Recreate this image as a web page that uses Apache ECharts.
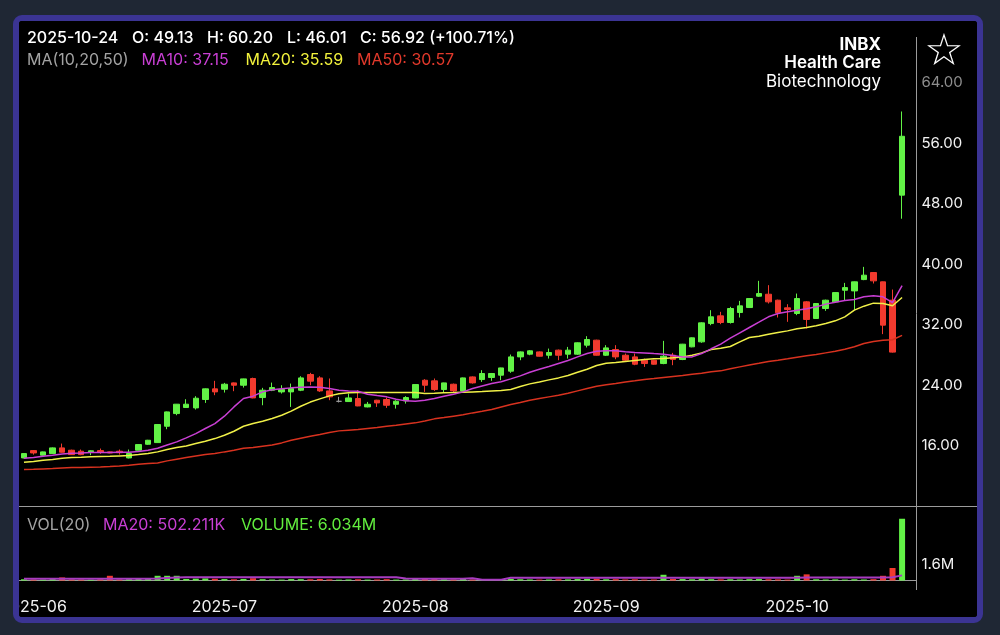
<!DOCTYPE html>
<html><head><meta charset="utf-8">
<script src="https://cdn.jsdelivr.net/npm/echarts@6/dist/echarts.min.js"></script>
<style>
html,body{margin:0;padding:0;background:#1f2734;width:1000px;height:635px;overflow:hidden}
#frame{position:absolute;left:13px;top:15px;width:958px;height:596px;border:6px solid #3b3493;border-radius:9px;background:#000;overflow:hidden}
#chart{position:absolute;left:0;top:0;width:958px;height:596px}
</style></head><body>
<div id="frame"><div id="chart"></div></div>
<script>
const dates = [
'2025-06-13','2025-06-16','2025-06-17','2025-06-18','2025-06-20','2025-06-23','2025-06-24','2025-06-25','2025-06-26','2025-06-27','2025-06-30',
'2025-07-01','2025-07-02','2025-07-03','2025-07-07','2025-07-08','2025-07-09','2025-07-10','2025-07-11','2025-07-14','2025-07-15','2025-07-16','2025-07-17','2025-07-18','2025-07-21','2025-07-22','2025-07-23','2025-07-24','2025-07-25','2025-07-28','2025-07-29','2025-07-30','2025-07-31',
'2025-08-01','2025-08-04','2025-08-05','2025-08-06','2025-08-07','2025-08-08','2025-08-11','2025-08-12','2025-08-13','2025-08-14','2025-08-15','2025-08-18','2025-08-19','2025-08-20','2025-08-21','2025-08-22','2025-08-25','2025-08-26','2025-08-27','2025-08-28','2025-08-29',
'2025-09-02','2025-09-03','2025-09-04','2025-09-05','2025-09-08','2025-09-09','2025-09-10','2025-09-11','2025-09-12','2025-09-15','2025-09-16','2025-09-17','2025-09-18','2025-09-19','2025-09-22','2025-09-23','2025-09-24','2025-09-25','2025-09-26','2025-09-29','2025-09-30',
'2025-10-01','2025-10-02','2025-10-03','2025-10-06','2025-10-07','2025-10-08','2025-10-09','2025-10-10','2025-10-13','2025-10-14','2025-10-15','2025-10-16','2025-10-17','2025-10-20','2025-10-21','2025-10-22','2025-10-23','2025-10-24'
];
const open = [14.36,15.33,14.72,14.94,15.69,15.38,15.25,15.16,15.33,15.16,15.25,
14.36,15.38,16.17,16.39,18.55,20.23,21.03,20.98,22.09,23.50,23.45,24.29,23.98,24.87,22.35,23.32,23.10,23.10,23.32,25.40,24.95,23.23,
21.85,21.82,22.22,21.11,22.00,22.09,21.46,21.91,22.30,24.64,24.56,23.41,24.11,23.23,25.08,24.73,25.00,25.31,25.84,27.73,28.09,
28.39,27.95,28.62,28.09,28.09,29.28,29.94,27.95,28.70,27.95,27.73,27.29,27.29,26.85,27.95,27.38,29.06,29.72,32.14,33.16,32.28,
33.60,34.26,35.76,36.02,35.23,34.22,33.47,35.01,32.81,34.13,35.01,36.55,36.46,37.96,38.89,37.66,35.23,49.13];
const high = [15.00,15.40,15.20,15.75,16.26,15.45,15.47,15.35,15.60,15.20,15.47,
15.47,16.20,16.75,18.85,20.50,21.50,22.13,22.53,23.55,24.56,24.29,24.34,24.85,24.98,23.63,24.33,23.98,24.20,25.17,25.62,25.17,24.87,
22.44,22.88,23.32,21.77,22.05,22.35,22.00,22.53,24.10,24.78,24.87,24.32,24.20,25.00,25.15,25.97,25.60,26.30,28.04,28.45,28.62,
28.45,28.83,28.70,29.05,29.65,30.47,30.00,29.28,29.28,28.17,28.17,27.50,27.35,29.85,28.26,29.45,30.30,32.30,33.91,33.69,34.35,
35.14,35.50,37.79,37.22,35.30,34.70,36.11,35.10,34.85,35.30,36.30,37.52,37.70,39.64,38.95,37.70,36.64,60.20];
const low = [14.30,14.80,14.65,14.90,15.05,14.75,14.72,14.72,14.90,14.98,14.80,
14.30,15.35,16.10,16.35,18.16,20.01,21.00,20.76,21.64,22.66,23.01,23.19,23.67,22.25,21.33,23.20,22.88,21.11,23.20,23.98,23.10,22.00,
21.70,21.78,21.20,21.05,21.11,20.98,20.89,21.55,22.25,23.10,23.23,23.01,22.97,23.20,24.20,24.42,24.56,24.64,25.62,27.29,27.95,
27.78,27.51,27.29,27.51,28.00,28.97,27.90,27.85,27.42,27.16,26.63,26.41,26.70,26.76,26.63,27.30,29.00,29.60,31.92,32.06,32.14,
32.94,34.20,35.67,34.79,32.94,32.37,33.25,31.49,32.75,33.82,34.95,35.14,33.91,37.88,37.44,30.74,28.30,46.01];
const close = [14.94,15.02,15.16,15.69,15.11,14.80,14.80,15.30,15.11,15.02,15.05,
14.94,16.13,16.70,18.78,20.45,21.47,21.47,22.26,23.50,23.10,24.11,23.98,24.82,22.30,23.32,23.67,23.41,23.54,24.95,24.52,23.23,22.44,
21.85,22.30,21.24,21.46,21.64,21.33,21.86,22.35,24.07,23.98,23.41,24.29,23.23,24.95,24.29,25.53,25.53,26.27,27.73,28.39,28.53,
27.82,28.31,27.95,28.62,29.59,30.03,27.95,28.92,27.73,27.29,26.76,26.85,26.76,27.82,27.38,29.41,30.25,32.23,33.03,32.28,34.13,
34.48,35.45,36.11,35.01,33.56,34.00,35.45,32.68,34.79,35.23,36.24,36.90,37.66,38.54,37.79,31.93,28.36,56.92];
const ma10 = [14.32,14.41,14.58,14.72,14.89,14.98,15.02,15.07,15.07,15.07,15.11,
15.11,15.20,15.37,15.64,16.08,16.48,17.01,17.58,18.25,18.91,19.88,21.11,22.22,22.53,23.10,23.37,23.50,23.63,23.72,23.76,23.72,23.54,
23.32,23.23,23.19,22.79,22.61,22.44,22.13,21.91,21.86,22.00,22.22,22.53,22.79,23.10,23.54,23.89,24.20,24.43,24.82,25.22,25.70,
26.10,26.45,26.85,27.25,27.73,28.17,28.48,28.53,28.53,28.40,28.31,28.26,28.17,28.09,27.91,27.73,27.73,28.17,28.80,29.41,30.20,
30.91,31.62,32.32,33.03,33.47,33.69,33.91,34.09,34.35,34.71,34.97,35.19,35.32,35.68,35.81,35.68,34.90,37.15];
const ma20 = [13.79,13.88,14.05,14.14,14.32,14.41,14.45,14.50,14.54,14.58,14.63,
14.67,14.80,14.94,15.16,15.47,15.73,15.95,16.26,16.57,16.92,17.36,17.89,18.55,18.91,19.22,19.57,20.01,20.55,21.20,21.75,22.17,22.57,
22.84,22.97,23.01,23.01,23.01,23.01,23.01,23.01,23.01,22.88,22.92,22.97,23.01,23.06,23.10,23.14,23.23,23.28,23.41,23.81,24.16,
24.42,24.69,24.95,25.26,25.70,26.10,26.59,26.90,26.98,27.12,27.25,27.38,27.47,27.51,27.60,27.73,27.95,28.26,28.70,28.88,29.10,
29.72,30.29,30.47,30.73,30.95,31.17,31.44,31.62,31.84,32.15,32.50,33.03,33.91,34.44,34.84,34.79,34.50,35.59];
const ma50 = [12.82,12.86,12.91,12.95,13.04,13.08,13.08,13.13,13.17,13.22,13.30,
13.39,13.52,13.61,13.70,13.97,14.19,14.41,14.63,14.80,14.94,15.16,15.37,15.64,15.73,15.91,16.08,16.35,16.70,16.97,17.23,17.45,17.72,
17.94,18.03,18.11,18.25,18.38,18.56,18.69,18.86,19.00,19.26,19.53,19.70,19.88,20.06,20.32,20.54,20.78,21.11,21.42,21.69,22.00,
22.22,22.44,22.66,22.92,23.23,23.54,23.85,24.03,24.20,24.42,24.56,24.73,24.86,25.00,25.13,25.26,25.44,25.57,25.77,25.88,26.15,
26.41,26.67,26.89,27.12,27.29,27.47,27.69,27.87,28.04,28.26,28.48,28.75,29.06,29.50,29.77,29.94,30.00,30.57];
// volume in millions of shares
const volume = [0.12,0.10,0.09,0.14,0.30,0.11,0.10,0.08,0.12,0.46,0.11,
0.13,0.16,0.20,0.46,0.46,0.46,0.15,0.18,0.20,0.17,0.14,0.12,0.15,0.22,0.13,0.10,0.09,0.14,0.13,0.12,0.15,0.11,
0.08,0.10,0.12,0.09,0.10,0.13,0.09,0.10,0.17,0.20,0.14,0.12,0.10,0.15,0.10,0.12,0.08,0.11,0.16,0.12,0.10,
0.09,0.10,0.12,0.11,0.14,0.16,0.18,0.12,0.13,0.10,0.12,0.09,0.10,0.56,0.15,0.14,0.12,0.18,0.13,0.11,0.12,
0.10,0.13,0.14,0.12,0.11,0.09,0.46,0.60,0.12,0.10,0.11,0.09,0.12,0.10,0.13,0.46,1.22,6.034];
const volMa20 = [0.16,0.16,0.16,0.16,0.16,0.16,0.16,0.16,0.16,0.16,0.16,
0.16,0.16,0.16,0.20,0.25,0.30,0.32,0.32,0.32,0.32,
0.32,0.32,0.32,0.32,0.32,0.32,0.32,0.32,0.32,0.32,
0.32,0.32,0.32,0.32,0.32,0.32,0.32,0.31,0.31,0.20,
0.16,0.16,0.16,0.16,0.16,0.16,0.22,0.08,0.08,0.08,
0.26,0.26,0.26,0.26,0.26,0.26,0.26,0.26,0.26,0.26,
0.26,0.26,0.26,0.26,0.26,0.26,0.27,0.27,0.27,0.27,
0.27,0.27,0.27,0.27,0.27,0.27,0.27,0.27,0.27,0.27,
0.28,0.29,0.29,0.29,0.29,0.29,0.29,0.29,0.29,0.30,0.32,0.502];
const priceTicks = [16,24,32,40,48,56,64];

const GREEN = '#62f246', RED = '#f23a2e', GRAY = '#9a9a9a';
const C_MA10 = '#c93fd4', C_MA20 = '#f0f048', C_MA50 = '#d8321f';
const FONT = 'Inter';

const cats = dates.concat(['']);
const candleData = dates.map((d, i) => {
  const v = [open[i], close[i], low[i], high[i]];
  if (open[i] === close[i]) return {value: v, itemStyle: {color: GRAY, borderColor: GRAY, borderColorDoji: GRAY}};
  return v;
});
const volData = dates.map((d, i) => ({value: volume[i], itemStyle: {color: close[i] >= open[i] ? GREEN : RED}}));

function txt(x, y, text, fill, font, align) {
  return {type: 'text', x: x, y: y, silent: true,
    style: {text: text, fill: fill, font: font, textAlign: align || 'left', textVerticalAlign: 'middle'}};
}

const chart = echarts.init(document.getElementById('chart'));
const gridL = 0.2, gridW = 897.2;
chart.setOption({
  animation: false,
  backgroundColor: '#000',
  grid: [
    {left: gridL, width: gridW, top: 1.3, height: 483.7, outerBoundsMode: 'none', containLabel: false},
    {left: gridL, width: gridW, top: 494, height: 65.5, outerBoundsMode: 'none', containLabel: false}
  ],
  xAxis: [
    {type: 'category', gridIndex: 0, data: cats, boundaryGap: true,
      axisLine: {show: false}, axisTick: {show: false}, axisLabel: {show: false}, splitLine: {show: false}},
    {type: 'category', gridIndex: 1, data: cats, boundaryGap: true, offset: 6.5,
      axisLine: {show: true, lineStyle: {color: '#9b9b9b', width: 1}}, axisTick: {show: false}, splitLine: {show: false},
      axisLabel: {color: '#f2f2f2', fontSize: 16, fontFamily: FONT, margin: 12,
        interval: (i) => i % 20 === 1, formatter: (v) => v.slice(0, 7)}}
  ],
  yAxis: [
    {type: 'value', gridIndex: 0, position: 'right', min: 8, max: 72, interval: 8,
      axisLine: {show: false}, axisTick: {show: false}, splitLine: {show: false},
      axisLabel: {color: '#f2f2f2', fontSize: 15, fontFamily: FONT, margin: 5,
        formatter: (v) => priceTicks.indexOf(v) < 0 ? '' : (v === 64 ? '{g|' + v.toFixed(2) + '}' : v.toFixed(2)),
        rich: {g: {color: '#8e8e8e', fontSize: 15, fontFamily: FONT}}}},
    {type: 'value', gridIndex: 1, position: 'right', min: 0, max: 6.4, interval: 1.6,
      axisLine: {show: false}, axisTick: {show: false}, splitLine: {show: false},
      axisLabel: {color: '#f2f2f2', fontSize: 15, fontFamily: FONT, margin: 5, padding: [5, 0, 0, 0],
        formatter: (v) => Math.abs(v - 1.6) < 1e-6 ? '1.6M' : ''}}
  ],
  series: [
    {type: 'candlestick', xAxisIndex: 0, yAxisIndex: 0, data: candleData, barWidth: 6,
      itemStyle: {color: GREEN, color0: RED, borderColor: GREEN, borderColor0: RED, borderWidth: 1}},
    {type: 'line', xAxisIndex: 0, yAxisIndex: 0, data: ma50, symbol: 'none', lineStyle: {color: C_MA50, width: 1.5}, itemStyle: {color: C_MA50}},
    {type: 'line', xAxisIndex: 0, yAxisIndex: 0, data: ma20, symbol: 'none', lineStyle: {color: C_MA20, width: 1.5}, itemStyle: {color: C_MA20}},
    {type: 'line', xAxisIndex: 0, yAxisIndex: 0, data: ma10, symbol: 'none', lineStyle: {color: C_MA10, width: 1.5}, itemStyle: {color: C_MA10}},
    {type: 'bar', xAxisIndex: 1, yAxisIndex: 1, data: volData, barWidth: 6},
    {type: 'line', xAxisIndex: 1, yAxisIndex: 1, data: volMa20, symbol: 'none', lineStyle: {color: '#a83cc0', width: 2}, itemStyle: {color: '#a83cc0'}}
  ],
  graphic: [
    {type: 'line', silent: true, shape: {x1: 0, y1: 485.5, x2: 958, y2: 485.5}, style: {stroke: '#9b9b9b', lineWidth: 1}},
    {type: 'line', silent: true, shape: {x1: 897.5, y1: 16, x2: 897.5, y2: 569}, style: {stroke: '#9b9b9b', lineWidth: 1}},
    txt(8, 17, '2025-10-24', '#ffffff', '500 16px Inter'),
    txt(113, 17, 'O: 49.13', '#ffffff', '500 16px Inter'),
    txt(188, 17, 'H: 60.20', '#ffffff', '500 16px Inter'),
    txt(268, 17, 'L: 46.01', '#ffffff', '500 16px Inter'),
    txt(341, 17, 'C: 56.92 (+100.71%)', '#ffffff', '500 16px Inter'),
    txt(8, 39, 'MA(10,20,50)', '#a3a3a3', '16px Inter'),
    txt(122.6, 39, 'MA10: 37.15', C_MA10, '16px Inter'),
    txt(226.5, 39, 'MA20: 35.59', '#f2f23c', '16px Inter'),
    txt(338, 39, 'MA50: 30.57', '#e2392b', '16px Inter'),
    txt(862, 24, 'INBX', '#ffffff', 'bold 17px Inter', 'right'),
    txt(862, 42, 'Health Care', '#ffffff', '600 17px Inter', 'right'),
    txt(862, 61, 'Biotechnology', '#ffffff', '17px Inter', 'right'),
    txt(925, 33, '☆', '#ffffff', '44px "DejaVu Sans"', 'center'),
    txt(8, 504, 'VOL(20)', '#a3a3a3', '16px Inter'),
    txt(84, 504, 'MA20: 502.211K', C_MA10, '16px Inter'),
    txt(222, 504, 'VOLUME: 6.034M', '#62ee3e', '16px Inter')
  ]
});
</script>
</body></html>
